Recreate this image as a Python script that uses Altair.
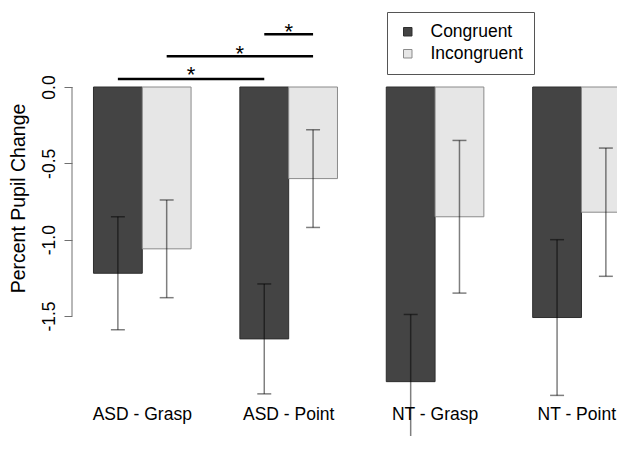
import altair as alt
import pandas as pd

# ---- data ----
groups = ["ASD - Grasp", "ASD - Point", "NT - Grasp", "NT - Point"]
conditions = ["Congruent", "Incongruent"]
congruent = [-1.22, -1.65, -1.93, -1.51]
incongruent = [-1.06, -0.60, -0.85, -0.82]
congruent_err = [0.37, 0.36, 0.44, 0.51]
incongruent_err = [0.32, 0.32, 0.50, 0.42]
y_ticks = [0.0, -0.5, -1.0, -1.5]

# significance brackets: (group a, cond a, group b, cond b, bracket level, star level)
sig_pairs = [(0, 0, 1, 0, 0.052, 0.030), (0, 1, 1, 1, 0.201, 0.170), (1, 0, 1, 1, 0.345, 0.317)]

FONT = "Liberation Sans"
X_MIN, X_MAX = 0.56, 0.56 + 545 / 48.8
Y_MIN, Y_MAX = -2.286, 0.5175
CAP = 0.143
LABEL_Y = -2.181

def bar_left(g, c):
    # R barplot(beside=TRUE) layout: each group = 2 bars + 1 bar gap
    return 1 + 3 * g + c

rows = []
for g, name in enumerate(groups):
    for c, cond in enumerate(conditions):
        val = congruent[g] if c == 0 else incongruent[g]
        err = congruent_err[g] if c == 0 else incongruent_err[g]
        x0 = bar_left(g, c)
        rows.append(dict(group=name, cond=cond, value=val, x=x0, x2=x0 + 1,
                         xc=x0 + 0.5, lo=val - err, hi=val + err,
                         cl=x0 + 0.5 - CAP, cr=x0 + 0.5 + CAP))
df = pd.DataFrame(rows)

# group labels centred under each pair; the last one is kept inside the visible edge
lab_mid = pd.DataFrame(dict(group=groups[:-1], x=[bar_left(g, 0) + 1 for g in range(3)],
                            y=[LABEL_Y] * 3))
lab_end = pd.DataFrame(dict(group=groups[-1:], x=[X_MAX], y=[LABEL_Y]))

sig = pd.DataFrame([dict(x=bar_left(a, ca) + 0.5, x2=bar_left(b, cb) + 0.5, y=lv,
                         xm=(bar_left(a, ca) + bar_left(b, cb)) / 2 + 0.5, ys=sl)
                    for (a, ca, b, cb, lv, sl) in sig_pairs])

axis_line = pd.DataFrame(dict(x=[X_MIN], y=[y_ticks[0]], y2=[y_ticks[-1]]))

xs = alt.Scale(domain=[X_MIN, X_MAX], nice=False, zero=False)
ys = alt.Scale(domain=[Y_MIN, Y_MAX], nice=False, zero=False)

base = alt.Chart(df)

bars = base.mark_bar(clip=True, strokeWidth=1).encode(
    x=alt.X("x:Q", scale=xs, axis=None),
    x2="x2:Q",
    y=alt.Y("value:Q", scale=ys,
            axis=alt.Axis(values=y_ticks, grid=False, domain=False, tickSize=8,
                          tickColor="#707070", tickWidth=1,
                          labelExpr="datum.value < 0 ? '-' + format(-datum.value, '.1f') : format(datum.value, '.1f')",
                          labelAngle=270, labelAlign="center", labelBaseline="alphabetic",
                          labelPadding=10, labelFont=FONT, labelFontSize=17.5,
                          labelColor="black",
                          title="Percent Pupil Change", titleFont=FONT, titleFontSize=19.5,
                          titleFontWeight="normal", titleColor="black", titleAngle=270,
                          titleBaseline="middle", titleAlign="center",
                          titleX=-54, titleY=190)),
    y2=alt.Y2(datum=0),
    fill=alt.Fill("cond:N", scale=alt.Scale(domain=conditions, range=["#444444", "#e6e6e6"]),
                  legend=alt.Legend(title=None, orient="none", legendX=315, legendY=4,
                                    symbolType="square", symbolSize=72,
                                    symbolStrokeColor="#444444", symbolStrokeWidth=1,
                                    labelFont=FONT, labelFontSize=17.5, labelColor="black",
                                    labelOffset=14, symbolOffset=1, padding=11,
                                    rowPadding=3, strokeColor="#555555",
                                    fillColor="white")),
    stroke=alt.Stroke("cond:N", scale=alt.Scale(domain=conditions, range=["#2e2e2e", "#8a8a8a"]),
                      legend=None),
)

err_v = base.mark_rule(color="black", opacity=0.5, strokeWidth=1.5, clip=True).encode(
    x="xc:Q", y="lo:Q", y2="hi:Q")
cap_lo = base.mark_rule(color="black", opacity=0.5, strokeWidth=1.5, clip=True).encode(
    x="cl:Q", x2="cr:Q", y="lo:Q")
cap_hi = base.mark_rule(color="black", opacity=0.5, strokeWidth=1.5, clip=True).encode(
    x="cl:Q", x2="cr:Q", y="hi:Q")

yaxis_line = alt.Chart(axis_line).mark_rule(color="#707070", strokeWidth=1).encode(
    x="x:Q", y="y:Q", y2="y2:Q")

labels = alt.Chart(lab_mid).mark_text(font=FONT, fontSize=17.5, color="black",
                                      baseline="alphabetic", align="center").encode(
    x="x:Q", y="y:Q", text="group:N")
label_end = alt.Chart(lab_end).mark_text(font=FONT, fontSize=17.5, color="black",
                                         baseline="alphabetic", align="right", dx=-1).encode(
    x="x:Q", y="y:Q", text="group:N")

sig_lines = alt.Chart(sig).mark_rule(color="black", strokeWidth=2.5).encode(
    x="x:Q", x2="x2:Q", y="y:Q")
stars = alt.Chart(sig).mark_text(font=FONT, fontSize=22, color="black",
                                 baseline="alphabetic", align="center", text="*").encode(
    x="xm:Q", y="ys:Q")

chart = alt.layer(bars, err_v, cap_lo, cap_hi, yaxis_line, labels, label_end,
                  sig_lines, stars).properties(
    width=545, height=428,
    autosize=alt.AutoSizeParams(type="none"),
    padding={"left": 64, "top": 0, "right": 0, "bottom": 0},
    background="white",
).configure_view(stroke=None)

chart.save("out.html", embed_options={"renderer": "svg", "actions": False})
